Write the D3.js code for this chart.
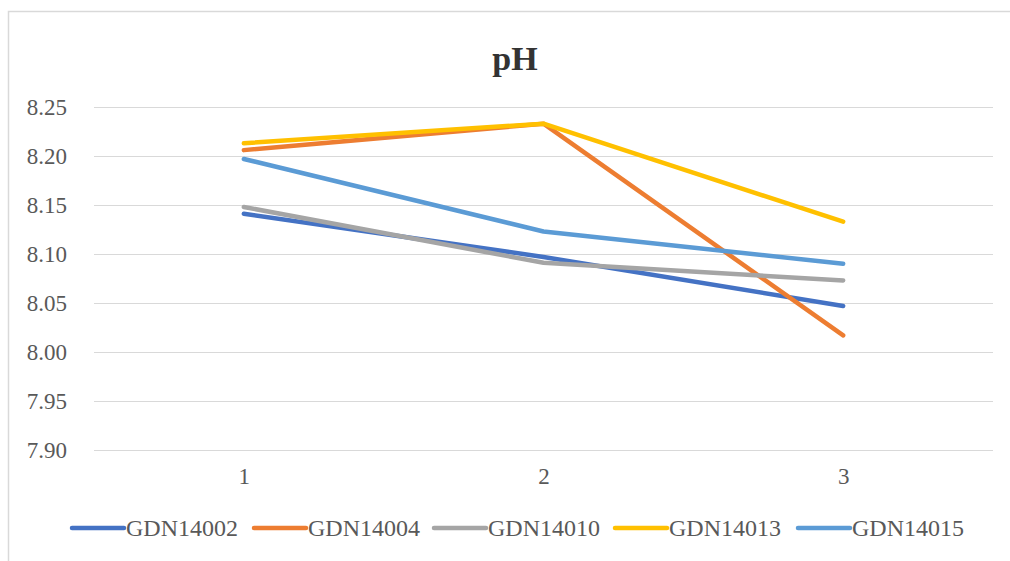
<!DOCTYPE html>
<html>
<head>
<meta charset="utf-8">
<script src="https://cdn.jsdelivr.net/npm/d3@7"></script>
<style>
  html, body { margin: 0; padding: 0; background: #fff; }
  svg { display: block; }
  text { font-family: "Liberation Serif", "Times New Roman", serif; }
</style>
</head>
<body>
<svg id="chart" width="1010" height="561"></svg>
<script>
const categories = ["1", "2", "3"];
const seriesNames = ["GDN14002", "GDN14004", "GDN14010", "GDN14013", "GDN14015"];
const GDN14002 = [8.141, 8.097, 8.047];
const GDN14004 = [8.206, 8.233, 8.017];
const GDN14010 = [8.148, 8.091, 8.073];
const GDN14013 = [8.213, 8.233, 8.133];
const GDN14015 = [8.197, 8.123, 8.090];
const yTicks = [7.90, 7.95, 8.00, 8.05, 8.10, 8.15, 8.20, 8.25];
const colors = ["#4472C4", "#ED7D31", "#A5A5A5", "#FFC000", "#5B9BD5"];
const seriesValues = [GDN14002, GDN14004, GDN14010, GDN14013, GDN14015];

const svg = d3.select("#chart");
const font = "'Liberation Serif', 'Times New Roman', serif";

// frame
svg.append("path")
  .attr("d", "M8.5,561 L8.5,11.5 L1010,11.5")
  .attr("fill", "none").attr("stroke", "#d9d9d9").attr("stroke-width", 1.5);

const x = d3.scalePoint().domain(categories).range([94, 993]).padding(0.5);
const y = d3.scaleLinear().domain([7.90, 8.25]).range([450, 107]);

// title
svg.append("text")
  .attr("x", 515).attr("y", 70)
  .attr("text-anchor", "middle")
  .style("font-family", font).attr("font-weight", "bold").attr("font-size", 34)
  .attr("fill", "#333")
  .text("pH");

// grid
const yAxis = d3.axisLeft(y).tickValues(yTicks).tickFormat(d3.format(".2f"))
  .tickSize(-(993 - 94)).tickPadding(27);
const gy = svg.append("g").attr("transform", "translate(94,0)").call(yAxis);
gy.attr("font-family", null);
gy.select(".domain").remove();
gy.selectAll(".tick line").attr("stroke", "#d9d9d9").attr("stroke-width", 1.2);
gy.selectAll(".tick text")
  .style("font-family", font).attr("font-size", 23).attr("fill", "#595959");

const xAxis = d3.axisBottom(x).tickSize(0).tickPadding(18);
const gx = svg.append("g").attr("transform", "translate(0,450)").call(xAxis);
gx.attr("font-family", null);
gx.select(".domain").remove();
gx.selectAll(".tick text")
  .style("font-family", font).attr("font-size", 23).attr("fill", "#595959");

// lines
const line = d3.line().x((d, i) => x(categories[i])).y(d => y(d));
seriesValues.forEach((vals, k) => {
  svg.append("path")
    .datum(vals)
    .attr("d", line)
    .attr("fill", "none")
    .attr("stroke", colors[k])
    .attr("stroke-width", 4.5)
    .attr("stroke-linecap", "round")
    .attr("stroke-linejoin", "round");
});

// legend
const legendX = [72, 254, 434, 615, 798];
const legendY = 528;
seriesNames.forEach((name, k) => {
  const g = svg.append("g").attr("transform", `translate(${legendX[k]},${legendY})`);
  g.append("line").attr("x1", 0).attr("x2", 52).attr("y1", 0).attr("y2", 0)
    .attr("stroke", colors[k]).attr("stroke-width", 4.5).attr("stroke-linecap", "round");
  g.append("text").attr("x", 54).attr("y", 8)
    .style("font-family", font).attr("font-size", 24).attr("fill", "#595959")
    .text(name);
});
</script>
</body>
</html>
